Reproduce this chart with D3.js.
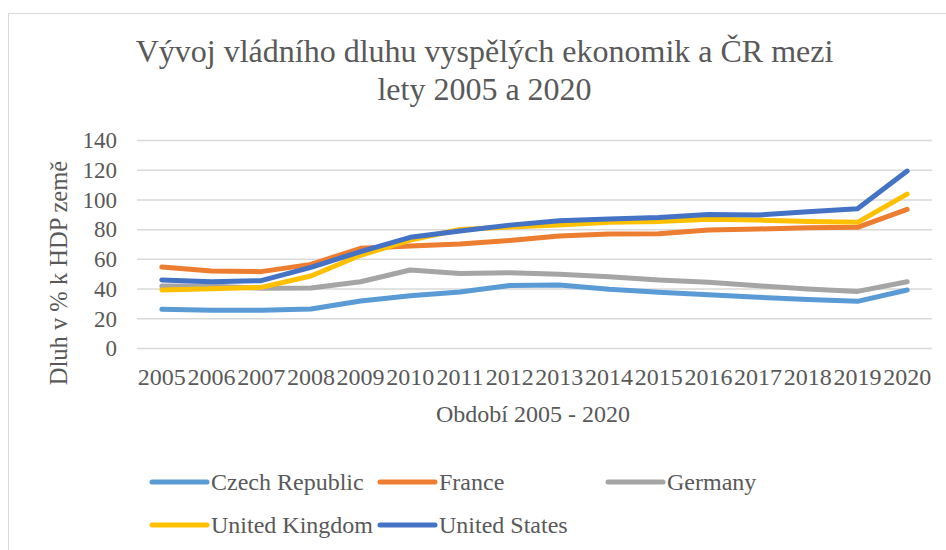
<!DOCTYPE html>
<html><head><meta charset="utf-8">
<script src="https://cdn.jsdelivr.net/npm/d3@7"></script>
<style>body{margin:0;background:#fff}svg{display:block}</style>
</head><body><svg id="c" width="946" height="550"></svg>
<script>
const years = ["2005","2006","2007","2008","2009","2010","2011","2012","2013","2014","2015","2016","2017","2018","2019","2020"];
const czech   = [26.0,25.4,25.4,26.2,31.6,35.2,37.7,42.1,42.4,39.5,37.5,35.9,34.1,32.7,31.4,39.0];
const france  = [54.5,51.8,51.4,56.3,67.1,68.6,70.0,72.4,75.4,76.7,76.9,79.4,80.1,81.0,81.2,93.3];
const germany = [41.7,41.7,40.2,40.4,44.6,52.5,50.2,50.7,49.6,48.0,45.8,44.2,41.9,39.7,38.1,44.6];
const uk      = [39.0,39.9,40.8,48.5,62.4,72.7,79.8,81.5,82.8,84.6,85.2,86.6,86.1,85.2,84.6,103.6];
const us      = [45.8,44.6,45.3,54.3,64.8,74.5,78.7,82.7,85.7,86.8,87.9,89.9,89.5,91.7,93.7,119.1];
const seriesNames = ["Czech Republic","France","Germany","United Kingdom","United States"];
const seriesColors = ["#5B9BD5","#ED7D31","#A5A5A5","#FFC000","#4472C4"];
const yTicks = [0,20,40,60,80,100,120,140];
const titleLines = ["Vývoj vládního dluhu vyspělých ekonomik a ČR mezi","lety 2005 a 2020"];
const xTitle = "Období 2005 - 2020";
const yTitle = "Dluh v % k HDP země";

const FONT = '"Liberation Serif","Times New Roman",serif';
const TXT = "#595959";
const svg = d3.select("#c");
svg.append("rect").attr("x",8.5).attr("y",13.5).attr("width",960).attr("height",560)
  .attr("fill","none").attr("stroke","#d9d9d9").attr("stroke-width",1);

const x = d3.scaleBand().domain(years).range([137,932]);
const y = d3.scaleLinear().domain([0,140]).range([348,140]);

function st(sel, size){ return sel.style("font-family",FONT).style("font-size",size+"px").attr("fill",TXT); }

// title
st(svg.append("g").selectAll("text").data(titleLines).join("text")
  .attr("x",484.5).attr("y",(d,i)=>62+i*38).attr("text-anchor","middle").text(d=>d), 32);

// grid + y axis
const ya = d3.axisLeft(y).tickValues(yTicks).tickSize(-(932-137)).tickPadding(20);
const gy = svg.append("g").attr("transform","translate(137,0)").call(ya);
gy.select(".domain").remove();
gy.selectAll(".tick line").attr("stroke","#d9d9d9").attr("stroke-width",1.5);
st(gy.selectAll(".tick text").attr("x",-20).attr("dy","0.34em"), 23);

// x axis
const xa = d3.axisBottom(x).tickSize(0).tickPadding(0);
const gx = svg.append("g").attr("transform","translate(0,348)").call(xa);
gx.select(".domain").remove();
st(gx.selectAll(".tick text").attr("y",37).attr("dy",0), 24);

// axis titles
st(svg.append("text").attr("x",533).attr("y",422).attr("text-anchor","middle").text(xTitle), 24);
st(svg.append("text").attr("transform","translate(67,273) rotate(-90)").attr("text-anchor","middle").text(yTitle), 24.5);

// lines
const all = [czech,france,germany,uk,us];
const line = d3.line().x((d,i)=>x(years[i])+x.bandwidth()/2).y(d=>y(d));
svg.append("g").selectAll("path").data(all).join("path")
  .attr("d",d=>line(d)).attr("fill","none").attr("stroke",(d,i)=>seriesColors[i])
  .attr("stroke-width",5).attr("stroke-linecap","round").attr("stroke-linejoin","round");

// legend
const lx = [152,380,608,152,380];
const ly = [482,482,482,525,525];
const lg = svg.append("g").selectAll("g").data(seriesNames).join("g")
  .attr("transform",(d,i)=>`translate(${lx[i]},${ly[i]})`);
lg.append("line").attr("x1",0).attr("x2",55).attr("y1",0).attr("y2",0)
  .attr("stroke",(d,i)=>seriesColors[i]).attr("stroke-width",5).attr("stroke-linecap","round");
st(lg.append("text").attr("x",59).attr("dy","0.34em").text(d=>d), 24);
</script></body></html>
